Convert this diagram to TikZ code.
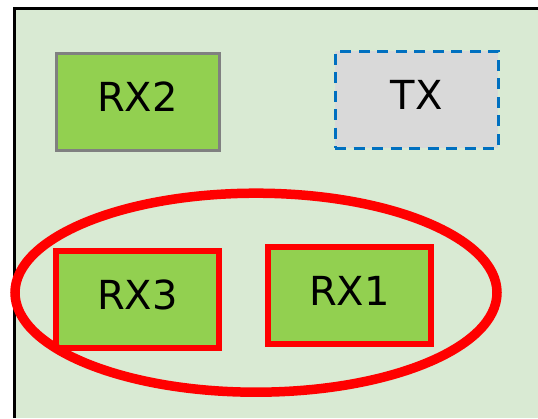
\documentclass[tikz,border=0pt]{standalone}
\usepackage{fontspec}
\setmainfont{DejaVu Sans}
\usetikzlibrary{shapes.geometric}

\definecolor{bggreen}{HTML}{D9EAD3}
\definecolor{boxgreen}{HTML}{92D050}
\definecolor{txgray}{HTML}{D9D9D9}
\definecolor{txblue}{HTML}{0070C0}
\definecolor{rxborder}{HTML}{808080}

\begin{document}
\begin{tikzpicture}[x=1pt, y=-1pt,
    radio/.style={rectangle, inner sep=0pt, minimum width=163pt, minimum height=97pt,
      text depth=9pt, font=\fontsize{40}{48}\selectfont},
    rxbox/.style={radio, draw=rxborder, line width=3pt, fill=boxgreen},
    txbox/.style={radio, draw=txblue, line width=3pt, fill=txgray,
      dash pattern=on 11pt off 7.5pt},
    selbox/.style={radio, draw=red, line width=6pt, fill=boxgreen}]
  \useasboundingbox (0,0) rectangle (538,418);

        % Draw the background
    \fill[bggreen] (14,8) rectangle (538,418);
    \draw[line width=3pt] (14,418) -- (14,8) -- (538,8);

        % Draw the radios
    \node[rxbox] (rx2) at (137.5,101.5) {RX2};
    \node[txbox] (tx) at (416.5,99.5) {TX};
    \node[selbox] (rx3) at (137.5,299.5) {RX3};
    \node[selbox] (rx1) at (349.5,295.5) {RX1};

        % Show the group
    \node[ellipse, draw=red, line width=9.5pt, minimum width=482pt, minimum height=199pt,
      inner sep=0pt] (grp) at (256,292.7) {};
  \end{tikzpicture}
\end{document}
